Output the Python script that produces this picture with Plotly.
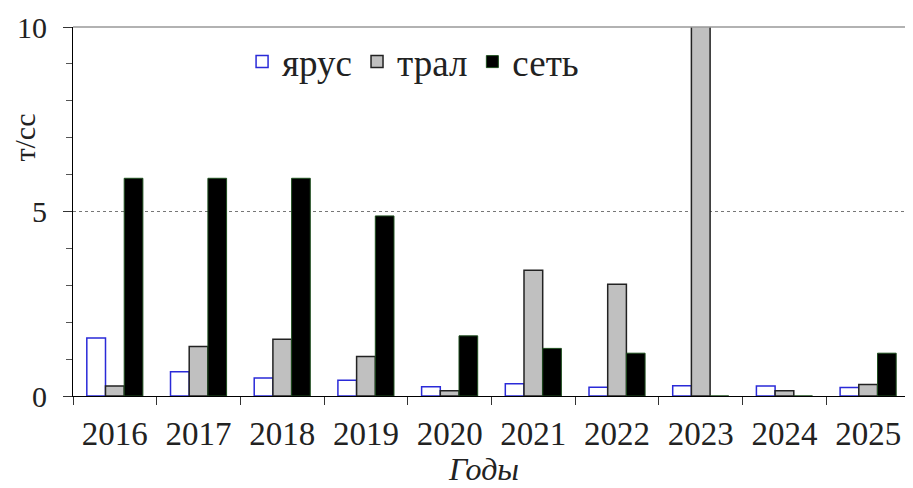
import plotly.graph_objects as go

years = ["2016", "2017", "2018", "2019", "2020", "2021", "2022", "2023", "2024", "2025"]
yarus = [1.57, 0.66, 0.49, 0.43, 0.25, 0.33, 0.24, 0.28, 0.27, 0.23]
tral = [0.27, 1.34, 1.54, 1.07, 0.14, 3.41, 3.03, 12.0, 0.14, 0.31]
set_ = [5.9, 5.9, 5.9, 4.88, 1.63, 1.29, 1.16, 0.0, 0.0, 1.16]

serif = "Liberation Serif"

fig = go.Figure()
fig.add_trace(go.Bar(name="ярус", x=years, y=yarus,
                     marker=dict(color="white", line=dict(color="#2a2ad8", width=1.5))))
fig.add_trace(go.Bar(name="трал", x=years, y=tral,
                     marker=dict(color="#c0c0c0", line=dict(color="#222222", width=1.5))))
fig.add_trace(go.Bar(name="сеть", x=years, y=set_,
                     marker=dict(color="black", line=dict(color="#1f4f1f", width=1))))

fig.update_layout(
    width=905, height=480,
    margin=dict(l=65, r=3, t=19, b=92),
    paper_bgcolor="white", plot_bgcolor="white",
    barmode="group", bargap=0.33, bargroupgap=0,
    font=dict(family=serif, color="#222222"),
    showlegend=True,
    legend=dict(orientation="h", x=0.202, y=0.905, xanchor="left", yanchor="middle",
                font=dict(size=37, family=serif, color="#222222"),
                bgcolor="rgba(0,0,0,0)", itemwidth=30, tracegroupgap=0),
    xaxis=dict(type="category", showline=True, linecolor="black", linewidth=1,
               ticks="outside", tickson="boundaries", ticklen=8, tickcolor="#333",
               tickfont=dict(size=33, family=serif, color="#222222"),
               ticklabelstandoff=8,
               showgrid=False, zeroline=False),
    yaxis=dict(range=[0, 10], tickvals=[0, 5, 10], showline=True, linecolor="black",
               linewidth=1, ticks="outside", ticklen=9, tickcolor="#333",
               tickfont=dict(size=30, family=serif, color="#222222"),
               ticklabelstandoff=10,
               showgrid=True, gridcolor="#777777", griddash="dot", gridwidth=1,
               zeroline=False,
               minor=dict(dtick=1, ticks="outside", ticklen=6, tickcolor="#555",
                          showgrid=False)),
)

fig.add_shape(type="line", xref="paper", yref="paper", x0=0, x1=1, y0=1, y1=1,
              line=dict(color="#999999", width=1.5))

fig.add_annotation(text="т/сс", xref="paper", yref="paper", x=-0.0575, y=0.70,
                   xanchor="center", yanchor="middle", textangle=-90, showarrow=False,
                   font=dict(size=30, family=serif, color="#222222"))
fig.add_annotation(text="<i>Годы</i>", xref="paper", yref="paper", x=0.49, y=-0.197,
                   xanchor="center", yanchor="middle", showarrow=False,
                   font=dict(size=32, family=serif, color="#222222"))

fig.write_html("out.html")
